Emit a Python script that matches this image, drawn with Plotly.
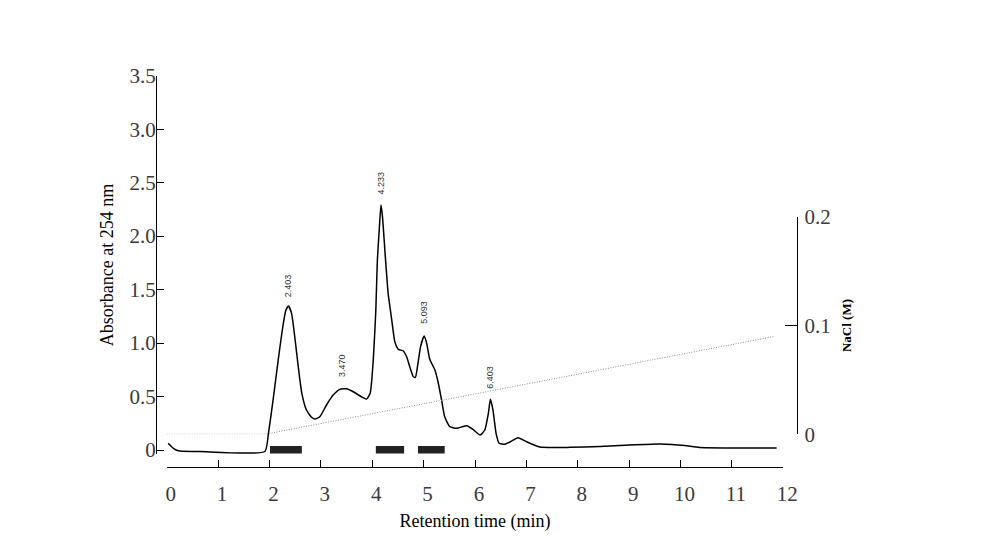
import plotly.graph_objects as go

# Chromatogram (absorbance at 254 nm)
time_min = [0.03, 0.10, 0.18, 0.26, 0.65, 1.91, 1.98, 2.07, 2.17, 2.27, 2.32, 2.37, 2.43, 2.50,
            2.56, 2.63, 2.72, 2.82, 2.89, 2.98, 3.11, 3.24, 3.37, 3.50, 3.63, 3.79, 3.89, 3.96,
            4.02, 4.07, 4.10, 4.14, 4.17, 4.20, 4.25, 4.31, 4.38, 4.44, 4.51, 4.60, 4.67, 4.73,
            4.80, 4.84, 4.89, 4.94, 5.01, 5.06, 5.12, 5.22, 5.28, 5.35, 5.41, 5.51, 5.64, 5.84,
            5.96, 6.10, 6.19, 6.26, 6.30, 6.35, 6.41, 6.47, 6.58, 6.68, 6.84, 7.00, 7.26, 7.85,
            8.43, 9.01, 9.60, 10.08, 10.37, 11.87]
absorbance = [0.063, 0.028, 0.0, -0.009, -0.014, -0.014, 0.156, 0.467, 0.841, 1.184, 1.308, 1.346,
              1.278, 1.028, 0.779, 0.530, 0.374, 0.306, 0.290, 0.311, 0.421, 0.514, 0.567, 0.573,
              0.545, 0.498, 0.477, 0.530, 0.841, 1.308, 1.776, 2.087, 2.290, 2.180, 1.838, 1.464,
              1.215, 1.012, 0.941, 0.928, 0.872, 0.779, 0.685, 0.679, 0.810, 0.965, 1.065, 0.997,
              0.848, 0.748, 0.638, 0.467, 0.311, 0.218, 0.203, 0.227, 0.193, 0.140, 0.187, 0.343,
              0.474, 0.374, 0.156, 0.063, 0.053, 0.075, 0.115, 0.078, 0.028, 0.025, 0.033, 0.047,
              0.056, 0.042, 0.023, 0.019]

# NaCl gradient
grad_time = [0.0, 1.91, 11.83]
grad_nacl = [0.0, 0.0, 0.09]

# Peak labels
peak_text = ["2.403", "3.470", "4.233", "5.093", "6.403"]
peak_x = [2.36, 3.40, 4.17, 5.00, 6.30]
peak_y = [1.54, 0.79, 2.50, 1.29, 0.68]

# Collected fractions (black bars)
frac_start = [2.01, 4.07, 4.89]
frac_end = [2.63, 4.62, 5.41]
frac_base = -0.033
frac_height = 0.07

# Tick labels
x_ticks = list(range(0, 13))
y_ticks = [0, 0.5, 1.0, 1.5, 2.0, 2.5, 3.0, 3.5]
y_ticktext = ["0", "0.5", "1.0", "1.5", "2.0", "2.5", "3.0", "3.5"]
y2_ticks = [0, 0.1, 0.2]
y2_ticktext = ["0", "0.1", "0.2"]

W, H = 1001, 542
OX, OY = 8, 8  # page body offset


def fx(px):
    return (px - OX) / W


def fy(py):
    return (H - (py - OY)) / H


serif = "Liberation Serif, Times New Roman, serif"

fig = go.Figure()
fig.add_trace(go.Scatter(x=grad_time, y=grad_nacl, xaxis="x", yaxis="y2", mode="lines",
                         line=dict(color="#8f8f8f", width=1, dash="1px,1.5px"), hoverinfo="skip"))
fig.add_trace(go.Scatter(x=time_min, y=absorbance, mode="lines",
                         line=dict(color="black", width=1.5, shape="spline", smoothing=0.5)))
fig.add_trace(go.Bar(x=[(s + e) / 2 for s, e in zip(frac_start, frac_end)],
                     width=[e - s for s, e in zip(frac_start, frac_end)],
                     y=[frac_height] * len(frac_start), base=[frac_base] * len(frac_start),
                     marker=dict(color="#222222", line=dict(width=0))))

for t, px, py in zip(peak_text, peak_x, peak_y):
    fig.add_annotation(x=px, y=py, xref="x", yref="y", text=t, textangle=-90, showarrow=False,
                       font=dict(family="Liberation Sans, Arial, sans-serif", size=9, color="#333333"))

tickfont = dict(family=serif, size=21, color="#3a3a3a")

fig.update_layout(
    width=W, height=H, margin=dict(l=0, r=0, t=0, b=0, autoexpand=False),
    paper_bgcolor="white", plot_bgcolor="rgba(0,0,0,0)", showlegend=False,
    xaxis=dict(domain=[fx(166.7), fx(783.3)], range=[0, 12], anchor="free", automargin=False,
               position=fy(467), showline=True, linecolor="black", linewidth=1.2,
               ticks="inside", ticklen=7, tickcolor="black", tickwidth=1.2,
               tickvals=x_ticks, tickfont=tickfont, ticklabelstandoff=8, ticklabelshift=4,
               showgrid=False, zeroline=False,
               title=dict(text="Retention time (min)", font=dict(family=serif, size=18, color="black"),
                          standoff=9)),
    yaxis=dict(domain=[fy(454.3), fy(75.7)], range=[-0.04, 3.5], anchor="free",
               automargin=False,
               position=fx(156), showline=True, linecolor="black", linewidth=1.2,
               ticks="inside", ticklen=7, tickcolor="black", tickwidth=1.2,
               tickvals=y_ticks, ticktext=y_ticktext, tickfont=tickfont, ticklabelstandoff=-4,
               showgrid=False, zeroline=False,
               title=dict(text="Absorbance at 254 nm", font=dict(family=serif, size=18, color="black"),
                          standoff=10)),
    yaxis2=dict(domain=[fy(434.3), fy(216.7)], range=[0, 0.2], anchor="free",
                automargin=False,
                position=fx(797.3), side="right", showline=True, linecolor="black", linewidth=1.2,
                ticks="inside", ticklen=12, tickcolor="black", tickwidth=1.2,
                tickvals=y2_ticks, ticktext=y2_ticktext, tickfont=tickfont, ticklabelstandoff=2,
                showgrid=False, zeroline=False,
                title=dict(text="<b>NaCl (M)</b>", font=dict(family=serif, size=13, color="black"),
                           standoff=12)),
)

fig.write_html("out.html")
